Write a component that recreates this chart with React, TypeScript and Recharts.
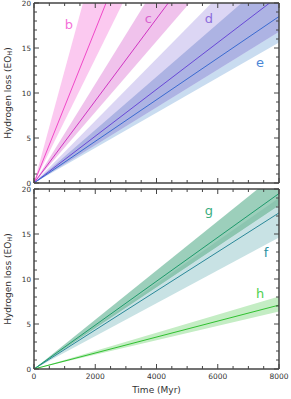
import React from 'react';
import { ComposedChart, Area, Line, XAxis, YAxis, ReferenceDot } from 'recharts';

// time in Myr, hydrogen loss in Earth oceans (EO_H)
const time = [0, 8000];

const bLow = [0, 55.2];
const bMid = [0, 68];
const bHigh = [0, 100];
const cLow = [0, 31.5];
const cMid = [0, 36.5];
const cHigh = [0, 44];
const dLow = [0, 16.8];
const dMid = [0, 20.8];
const dHigh = [0, 27.6];
const eLow = [0, 15.6];
const eMid = [0, 18.5];
const eHigh = [0, 23.6];

const fLow = [0, 14.6];
const fMid = [0, 17.35];
const fHigh = [0, 19.0];
const gLow = [0, 18.2];
const gMid = [0, 19.5];
const gHigh = [0, 21.9];
const hLow = [0, 6.4];
const hMid = [0, 7.1];
const hHigh = [0, 8.05];

const xTicks = [0, 500, 1000, 1500, 2000, 2500, 3000, 3500, 4000, 4500, 5000, 5500, 6000, 6500, 7000, 7500, 8000];
const yTicks = [0, 1, 2, 3, 4, 5, 6, 7, 8, 9, 10, 11, 12, 13, 14, 15, 16, 17, 18, 19, 20];

const topLabels = [
  { name: 'b', t: 1143, v: 17.6, color: '#f472d8' },
  { name: 'c', t: 3733, v: 18.3, color: '#d862cf' },
  { name: 'd', t: 5714, v: 18.3, color: '#8c6cdc' },
  { name: 'e', t: 7380, v: 13.4, color: '#4a86d6' },
];
const bottomLabels = [
  { name: 'g', t: 5714, v: 17.6, color: '#3cae80' },
  { name: 'f', t: 7575, v: 13.0, color: '#2a8fa0' },
  { name: 'h', t: 7380, v: 8.4, color: '#4fd04f' },
];

const topData = time.map((t, i) => ({
  t,
  bBand: [bLow[i], bHigh[i]], b: bMid[i],
  cBand: [cLow[i], cHigh[i]], c: cMid[i],
  dBand: [dLow[i], dHigh[i]], d: dMid[i],
  eBand: [eLow[i], eHigh[i]], e: eMid[i],
  deBand: [dLow[i], eHigh[i]],
}));

const bottomData = time.map((t, i) => ({
  t,
  fBand: [fLow[i], fHigh[i]], f: fMid[i],
  gBand: [gLow[i], gHigh[i]], g: gMid[i],
  fgBand: [gLow[i], fHigh[i]],
  hBand: [hLow[i], hHigh[i]], h: hMid[i],
}));

const FONT = 'DejaVu Sans, Verdana, sans-serif';
const FRAME = { stroke: '#454545', strokeWidth: 1.5 };

const makeTick = (side: string, labels: boolean, major: number) => (props: any) => {
  const { x, y, payload } = props;
  const v = payload.value;
  const isMajor = v % major === 0;
  const len = isMajor ? 5 : 3;
  let line;
  let label = null;
  if (side === 'left') {
    line = <line x1={x} x2={x + len} y1={y} y2={y} stroke="#454545" />;
    if (labels && isMajor)
      label = <text x={x - 3} y={y} dy={2.6} textAnchor="end" fontSize={7.2} fill="#333" fontFamily={FONT}>{v}</text>;
  } else if (side === 'right') {
    line = <line x1={x} x2={x - len} y1={y} y2={y} stroke="#454545" />;
  } else if (side === 'bottom') {
    line = <line x1={x} x2={x} y1={y} y2={y - len} stroke="#454545" />;
    if (labels && isMajor)
      label = <text x={x} y={y + 10} textAnchor="middle" fontSize={7.5} fill="#333" fontFamily={FONT}>{v}</text>;
  } else {
    line = <line x1={x} x2={x} y1={y} y2={y + len} stroke="#454545" />;
  }
  return <g>{line}{label}</g>;
};

const YTitle = ({ viewBox }: any) => {
  const cx = viewBox.x - 25;
  const cy = viewBox.y + viewBox.height / 2;
  return (
    <text x={cx} y={cy} transform={`rotate(-90 ${cx} ${cy})`} textAnchor="middle" dominantBaseline="central"
      fontSize={9} fill="#333" fontFamily={FONT}>
      Hydrogen loss (EO<tspan fontSize={6.5} dy={2}>H</tspan><tspan dy={-2}>)</tspan>
    </text>
  );
};

const XTitle = ({ viewBox }: any) => (
  <text x={viewBox.x + viewBox.width / 2} y={viewBox.y + 24} textAnchor="middle" fontSize={9} fill="#333" fontFamily={FONT}>
    Time (Myr)
  </text>
);

const letter = (color: string, name: string) => (p: any) => (
  <text x={p.cx} y={p.cy} textAnchor="middle" dominantBaseline="central" fontSize={13} fill={color} fontFamily={FONT}>
    {name}
  </text>
);

// axes need a non-zero size to be drawn, so each gets 1px and the margins shrink by that
const commonAxes = (xLabels: boolean) => [
  <XAxis key="xb" xAxisId="b" dataKey="t" type="number" domain={[0, 8000]} ticks={xTicks} height={1}
    axisLine={FRAME} tickLine={false} tickSize={0} tickMargin={0} tick={makeTick('bottom', xLabels, 2000)}
    interval={0} label={xLabels ? { content: (p: any) => <XTitle viewBox={p.viewBox} /> } : undefined} />,
  <XAxis key="xt" xAxisId="t" orientation="top" dataKey="t" type="number" domain={[0, 8000]} ticks={xTicks} height={1}
    axisLine={FRAME} tickLine={false} tickSize={0} tickMargin={0} tick={makeTick('top', false, 2000)} interval={0} />,
  <YAxis key="yl" yAxisId="l" type="number" domain={[0, 20]} ticks={yTicks} width={1} allowDataOverflow
    axisLine={FRAME} tickLine={false} tickSize={0} tickMargin={0} tick={makeTick('left', true, 5)} interval={0}
    label={{ content: (p: any) => <YTitle viewBox={p.viewBox} /> }} />,
  <YAxis key="yr" yAxisId="r" orientation="right" type="number" domain={[0, 20]} ticks={yTicks} width={1} allowDataOverflow
    axisLine={FRAME} tickLine={false} tickSize={0} tickMargin={0} tick={makeTick('right', false, 5)} interval={0} />,
];

const band = (key: string, fill: string) => (
  <Area key={key} xAxisId="b" yAxisId="l" type="linear" dataKey={key} stroke="none" fill={fill} fillOpacity={1}
    isAnimationActive={false} dot={false} activeDot={false} />
);
const mid = (key: string, stroke: string) => (
  <Line key={key} xAxisId="b" yAxisId="l" type="linear" dataKey={key} stroke={stroke} strokeWidth={1}
    isAnimationActive={false} dot={false} activeDot={false} />
);

export default function App() {
  return (
    <div style={{ position: 'absolute', left: 0, top: 0, width: 291, height: 399, background: '#fff' }}>
      <div style={{ position: 'absolute', left: 0, top: 0 }}>
        <ComposedChart width={291} height={192} data={topData} margin={{ top: 2, right: 11, bottom: 8, left: 33 }}>
          {commonAxes(false)}
          {band('bBand', '#fbc9f0')}
          {band('cBand', '#f0c2ec')}
          {band('eBand', '#c9dcf0')}
          {band('dBand', '#dcd6f4')}
          {band('deBand', '#adb3e3')}
          {mid('b', '#f048c8')}
          {mid('c', '#d034c2')}
          {mid('d', '#6848d6')}
          {mid('e', '#3a6ad0')}
          {topLabels.map((l) => (
            <ReferenceDot key={l.name} xAxisId="b" yAxisId="l" x={l.t} y={l.v} r={0} shape={letter(l.color, l.name)} />
          ))}
        </ComposedChart>
      </div>
      <div style={{ position: 'absolute', left: 0, top: 186 }}>
        <ComposedChart width={291} height={213} data={bottomData} margin={{ top: 2, right: 11, bottom: 29, left: 33 }}>
          {commonAxes(true)}
          {band('fBand', '#c8e2e4')}
          {band('gBand', '#9ccfbb')}
          {band('fgBand', '#8cc5b0')}
          {band('hBand', '#c4edc4')}
          {mid('f', '#2a8898')}
          {mid('g', '#1e9a6c')}
          {mid('h', '#30c030')}
          {bottomLabels.map((l) => (
            <ReferenceDot key={l.name} xAxisId="b" yAxisId="l" x={l.t} y={l.v} r={0} shape={letter(l.color, l.name)} />
          ))}
        </ComposedChart>
      </div>
    </div>
  );
}
